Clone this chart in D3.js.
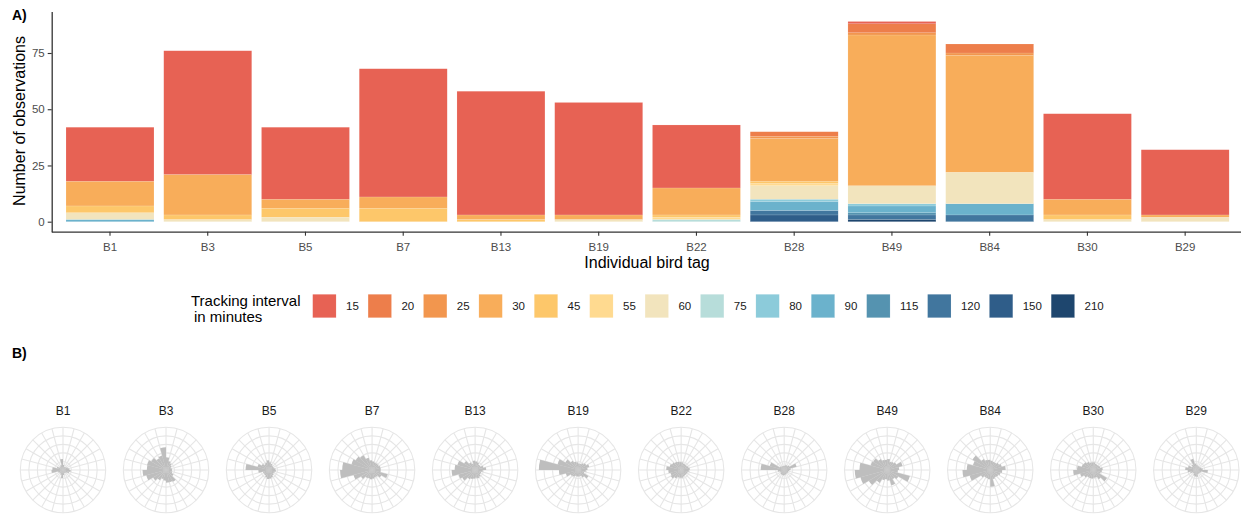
<!DOCTYPE html>
<head>
  <meta charset="utf-8">
  <script src="https://d3js.org/d3.v7.min.js"></script>
  <style>
    body { margin:0; background:#fff; }
    text { font-family: "Liberation Sans", Arial, sans-serif; }
  </style>
</head>

<body>

<svg width="1241" height="514"></svg>
<script>

const birds = ["B1","B3","B5","B7","B13","B19","B22","B28","B49","B84","B30","B29"]
const intervals = [15,20,25,30,45,55,60,75,80,90,115,120,150,210]
const colours = ["#E76254","#ED7E4B","#F2964E","#F8AD5A","#FDC76A","#FFDA90","#F2E4BD",
                 "#B7DDDA","#8CCBDA","#6BB2CC","#5593B0","#41769E","#2F5D89","#1E466E"]
const yTicks = [0,25,50,75]

// number of observations per bird (same order as birds), one array per interval
const c15  = [24,55,32,57,55,50,28,0,1,0,38,29]
const c20  = [0,0,0,0,0,0,0,2,4,4,0,0]
const c25  = [0,0,0,0,0,0,0,1,1,1,0,0]
const c30  = [11,18,4,5,2,2,12,19,67,52,7,1]
const c45  = [3,2,4,6,1,0,1,1,0,0,2,0]
const c55  = [0,0,0,0,0,0,1,1,0,0,0,0]
const c60  = [3,1,2,0,0,1,0,6,8,14,1,2]
const c75  = [0,0,0,0,0,0,1,0,0,0,0,0]
const c80  = [0,0,0,0,0,0,0,1,1,0,0,0]
const c90  = [1,0,0,0,0,0,0,4,3,5,0,0]
const c115 = [0,0,0,0,0,0,0,0,1,0,0,0]
const c120 = [0,0,0,0,0,0,0,2,2,3,0,0]
const c150 = [0,0,0,0,0,0,0,3,0,0,0,0]
const c210 = [0,0,0,0,0,0,0,0,1,0,0,0]

// direction bins (degrees, clockwise from north) for the rose plots
const dirBins = [0,15,30,45,60,75,90,105,120,135,150,165,180,195,210,225,240,255,270,285,300,315,330,345]
const rB1  = [1.2,0.8,0.8,1.0,1.2,1.5,1.8,1.5,1.0,0.8,0.8,1.2,1.9,1.2,1.0,1.0,1.2,2.7,2.5,1.5,1.0,1.0,1.2,2.6]
const rB3  = [3.0,2.2,1.8,1.5,1.3,1.4,1.4,1.5,2.0,3.2,3.0,3.0,2.5,2.2,2.8,3.5,4.8,5.5,4.5,4.6,4.0,3.2,3.5,5.3]
const rB5  = [1.8,1.5,1.3,1.2,1.2,1.5,1.6,1.4,1.3,1.5,1.8,2.0,2.1,1.8,1.5,1.4,1.5,2.5,5.5,2.8,2.0,1.6,1.8,2.3]
const rB7  = [2.0,1.8,1.8,1.8,2.0,2.0,2.0,3.8,2.5,1.8,1.8,2.0,2.2,2.0,2.2,3.0,4.5,7.5,7.0,5.0,4.5,4.0,3.0,2.3]
const rB13 = [2.0,1.8,1.5,1.5,2.0,2.6,1.8,1.5,1.5,1.8,2.0,1.8,2.0,2.2,2.5,3.5,4.0,5.5,4.8,4.3,3.0,2.0,1.6,2.2]
const rB19 = [1.5,1.5,1.8,2.2,2.7,2.2,1.8,1.5,2.8,2.0,1.5,1.5,1.5,1.5,1.8,2.0,3.0,4.5,9.2,5.0,3.5,2.5,2.0,1.8]
const rB22 = [1.8,1.6,1.6,1.6,1.8,2.0,1.8,1.6,1.5,1.5,1.6,1.8,1.8,1.8,2.3,2.8,2.6,3.0,3.5,2.8,2.5,2.2,2.0,1.9]
const rB28 = [1.0,1.2,1.2,1.5,3.0,1.5,1.2,1.0,1.0,1.0,1.0,1.2,1.3,1.2,1.2,1.0,1.0,1.5,5.5,3.5,1.2,1.0,1.0,1.0]
const rB49 = [2.6,2.0,2.2,2.5,3.7,2.8,2.5,5.5,3.0,2.5,3.7,2.5,2.2,2.5,3.5,5.0,6.5,7.6,6.5,4.0,3.8,3.0,2.5,2.4]
const rB84 = [2.2,2.0,2.0,2.4,2.8,3.6,2.8,2.5,2.2,2.0,2.2,3.9,2.2,2.0,2.0,2.5,5.0,6.5,5.5,4.2,4.8,3.0,2.5,2.4]
const rB30 = [1.8,1.5,1.5,1.6,1.7,2.2,2.0,1.8,3.7,2.5,1.8,1.8,2.0,2.0,2.0,2.5,3.2,4.7,3.8,2.8,2.6,2.2,1.8,1.8]
const rB29 = [1.2,1.0,1.0,1.0,1.2,1.5,2.7,1.2,1.0,1.0,1.0,1.6,1.5,1.4,1.0,1.0,1.5,2.0,2.6,2.0,1.2,1.5,2.7,1.5]

const counts = [c15,c20,c25,c30,c45,c55,c60,c75,c80,c90,c115,c120,c150,c210]
const roseVals = [rB1,rB3,rB5,rB7,rB13,rB19,rB22,rB28,rB49,rB84,rB30,rB29]

const table = birds.map((b, i) => {
  const row = {bird: b}
  intervals.forEach((k, j) => row[k] = counts[j][i])
  return row
})

const svg = d3.select("svg")

const colour = d3.scaleOrdinal().domain(intervals).range(colours)

// ---------- panel A ----------
const x = d3.scaleBand().domain(birds).range([51.35, 1243.8]).paddingInner(0.1).paddingOuter(0.15)
const y = d3.scaleLinear().domain([-4.45, 93.45]).range([231.7, 11.5])

// 15 on top, 210 at the bottom
const series = d3.stack().keys(intervals.slice().reverse())(table)

svg.append("g")
  .selectAll("g")
  .data(series)
  .enter().append("g")
    .attr("fill", d => colour(d.key))
  .selectAll("rect")
  .data(d => d.filter(s => s[1] > s[0]))
  .enter().append("rect")
    .attr("x", d => x(d.data.bird))
    .attr("width", x.bandwidth())
    .attr("y", d => y(d[1]))
    .attr("height", d => y(d[0]) - y(d[1]))
    .attr("stroke", "#fff")
    .attr("stroke-width", 0.4)
    .attr("stroke-opacity", 0.3)

const yAxis = svg.append("g")
  .attr("transform", "translate(51.7,0)")
  .call(d3.axisLeft(y).tickValues(yTicks).tickSize(4).tickSizeOuter(0).tickPadding(3))
const xAxis = svg.append("g")
  .attr("transform", "translate(0,231.7)")
  .call(d3.axisBottom(x).tickSize(4).tickSizeOuter(0).tickPadding(7))

;[yAxis, xAxis].forEach(a => {
  a.select(".domain").attr("stroke", "#333").attr("stroke-width", 1.3)
  a.selectAll(".tick line").attr("stroke", "#333").attr("stroke-width", 1.1)
  a.selectAll(".tick text").attr("fill", "#4D4D4D").style("font-size", "11.5px")
    .style("font-family", '"Liberation Sans", Arial, sans-serif')
})

svg.append("text")
  .attr("transform", "translate(25,121) rotate(-90)")
  .attr("text-anchor", "middle")
  .style("font-size", "16px")
  .text("Number of observations")

svg.append("text")
  .attr("x", 647).attr("y", 268)
  .attr("text-anchor", "middle")
  .style("font-size", "16px")
  .text("Individual bird tag")

svg.append("text").attr("x", 12).attr("y", 20)
  .style("font-size", "14px").style("font-weight", "bold").text("A)")

// legend
const leg = svg.append("g")
leg.append("text").attr("x", 191).attr("y", 305.5).style("font-size", "15px").text("Tracking interval")
leg.append("text").attr("x", 194).attr("y", 321.5).style("font-size", "15px").text("in minutes")

let lx = 312.7
intervals.forEach(k => {
  leg.append("rect")
    .attr("x", lx).attr("y", 294.3)
    .attr("width", 23.4).attr("height", 23.4)
    .attr("fill", colour(k))
    .attr("stroke", "#fff").attr("stroke-width", 0.4).attr("stroke-opacity", 0.3)
  const t = leg.append("text")
    .attr("x", lx + 33.3).attr("y", 310.2)
    .attr("fill", "#1A1A1A")
    .style("font-size", "11.5px")
    .text(k)
  lx += 33.3 + t.node().getComputedTextLength() + 9.3
})

// ---------- panel B ----------
svg.append("text").attr("x", 12).attr("y", 358)
  .style("font-size", "14px").style("font-weight", "bold").text("B)")

const rx = d3.scalePoint().domain(birds).range([63, 1196.3])
const R = 42.7
const rcy = 470
const r = d3.scaleLinear().domain([0, 10]).range([0, R])
const rings = [2, 4, 6, 8, 10]
const arc = d3.arc().innerRadius(0)

birds.forEach((b, i) => {
  const g = svg.append("g").attr("transform", `translate(${rx(b)},${rcy})`)
  g.selectAll("circle")
    .data(rings)
    .enter().append("circle")
      .attr("r", d => r(d))
      .attr("fill", "none")
      .attr("stroke", "#E6E6E6")
      .attr("stroke-width", 1.1)
  g.selectAll("line")
    .data(dirBins)
    .enter().append("line")
      .attr("x1", 0).attr("y1", 0)
      .attr("x2", d => R * Math.sin(d * Math.PI / 180))
      .attr("y2", d => -R * Math.cos(d * Math.PI / 180))
      .attr("stroke", "#E6E6E6")
      .attr("stroke-width", 1.1)
  g.selectAll("path")
    .data(roseVals[i])
    .enter().append("path")
      .attr("d", (v, j) => arc({
        outerRadius: r(v),
        startAngle: dirBins[j] * Math.PI / 180,
        endAngle: (dirBins[j] + 15) * Math.PI / 180
      }))
      .attr("fill", "#BEBEBE")
  svg.append("text")
    .attr("x", rx(b)).attr("y", 415)
    .attr("text-anchor", "middle")
    .attr("fill", "#1A1A1A")
    .style("font-size", "12px")
    .text(b)
})

</script>
</body>
